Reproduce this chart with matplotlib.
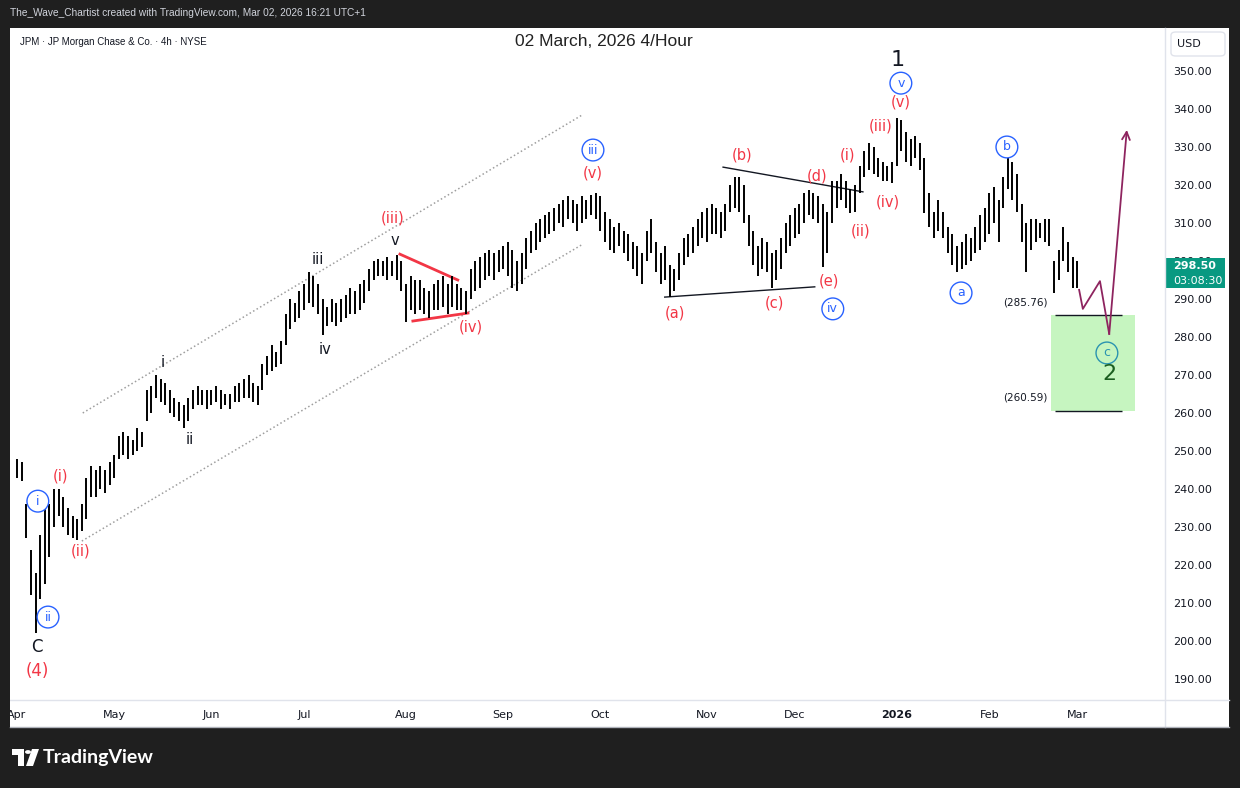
import numpy as np
import pandas as pd
import matplotlib
matplotlib.use("Agg")
import matplotlib.pyplot as plt
from matplotlib.patches import Rectangle, FancyBboxPatch, Circle, Polygon
from matplotlib.lines import Line2D

# ---- data: JPM 4h chart, one bar per trading day ----
holidays = ['2025-04-18', '2025-05-26', '2025-06-19', '2025-07-04', '2025-09-01',
            '2025-11-27', '2025-12-25', '2026-01-01', '2026-01-19', '2026-02-16']
days = pd.bdate_range('2025-04-01', '2026-03-02')
days = days[~days.isin(pd.to_datetime(holidays))]

lows = [243, 242, 227, 212, 202, 211, 215, 222, 230, 233,
        230, 228, 227, 226.5, 229, 232, 238, 238, 240, 239,
        241, 243, 248, 249, 248, 249, 250, 251, 258, 260,
        264, 263, 262, 260, 259, 258, 256, 258, 261, 262,
        262, 261, 262, 263, 261, 262, 261, 263, 263, 264,
        264, 263, 262, 266, 270, 271, 272, 273, 278, 282,
        284, 285, 287, 289, 288, 286, 280.5, 283, 284, 283,
        284, 285, 286, 286, 287, 289, 292, 295, 296, 296,
        295, 296, 295, 292, 284, 287, 286, 287, 286, 285,
        287, 287, 288, 286, 288, 287, 287, 286, 290, 292,
        293, 295, 296, 295, 297, 298, 296, 293, 292, 294,
        298, 302, 303, 305, 306, 307, 308, 310, 309, 311,
        310, 308, 310, 311, 312, 311, 308, 305, 303, 302,
        304, 302, 300, 298, 296, 294, 300, 302, 297, 294,
        295, 290.5, 292, 295, 299, 301, 302, 304, 306, 305,
        307, 307, 306, 308, 313, 314, 313, 310, 304, 299,
        296, 298, 297, 293, 295, 298, 302, 304, 306, 307,
        310, 312, 311, 310, 298.4, 302, 310, 314, 316, 314,
        312.6, 313, 318, 322, 324, 323, 322, 321, 321, 320.5,
        325, 329, 326, 325, 327, 324, 312.6, 309, 306, 308,
        306, 302, 299, 297, 298, 299, 300, 302, 303, 305,
        307, 310, 305, 314, 319, 316, 313, 305, 297, 303,
        305, 306, 305, 304, 291.6, 295, 300, 297, 293, 293]
highs = [248, 247, 236, 224, 218, 228, 237, 236, 240, 240,
         238, 235, 233, 232, 236, 243, 246, 245, 246, 245,
         247, 249, 254, 255, 254, 253, 256, 255, 266, 267,
         270, 269, 268, 266, 264, 263, 262, 264, 266, 267,
         266, 266, 266, 267, 266, 265, 265, 267, 268, 269,
         270, 268, 267, 273, 275, 278, 276, 279, 286, 290,
         289, 292, 294, 297, 296, 294, 290, 288, 290, 289,
         290, 291, 293, 292, 294, 295, 298, 300, 300.5, 300,
         301, 300, 301.5, 300, 294, 296, 295, 295, 293, 292,
         294, 295, 296, 294, 296, 294, 293, 292, 298, 300,
         301, 302, 303, 302, 303, 304, 305, 303, 300, 302,
         306, 308, 310, 311, 312, 313, 314, 315, 316, 317,
         316, 315, 317, 316, 317.5, 318, 317, 313, 311, 309,
         310, 308, 307, 305, 304, 302, 308, 311, 305, 302,
         304, 299, 298, 302, 306, 307, 309, 311, 313, 314,
         315, 314, 313, 315, 320, 322, 322, 320, 312, 308,
         304, 306, 305, 302, 303, 306, 310, 312, 314, 315,
         318, 318.7, 318, 317, 315, 313, 321, 321, 323, 321,
         319, 320, 325, 329, 331, 330, 327, 326, 325, 326,
         337.6, 337, 334, 332, 333, 331, 327, 318, 313, 316,
         313, 309, 307, 304, 305, 307, 306, 309, 312, 314,
         318, 319.5, 316, 322, 327, 326, 323, 315, 310, 311,
         311, 310, 311, 311, 300, 303, 309, 305, 301, 300]
last_price = 298.50
zone_top, zone_bottom = 285.76, 260.59
price_ticks = list(range(190, 351, 10))

# wave labels: (bar index, price, text)
red_labels = [(9.3, 243.4, '(i)'), (13.8, 223.7, '(ii)'), (81.2, 311.3, '(iii)'),
              (98, 282.6, '(iv)'), (124.4, 323.2, '(v)'), (142, 286.3, '(a)'),
              (156.6, 327.9, '(b)'), (163.7, 289.0, '(c)'), (172.8, 322.4, '(d)'),
              (175.4, 294.7, '(e)'), (179.3, 327.9, '(i)'), (182.3, 307.9, '(ii)'),
              (186.6, 335.5, '(iii)'), (188.1, 315.5, '(iv)'), (190.9, 341.8, '(v)')]
black_labels = [(31.5, 273.2, 'i'), (37.4, 253.0, 'ii'), (65, 300.3, 'iii'),
                (66.5, 276.8, 'iv'), (81.6, 305.3, 'v')]
blue_circles = [(4.5, 236.8, 'i'), (6.7, 206.3, 'ii'), (124.4, 329.2, 'iii'),
                (176.2, 287.4, 'iv'), (190.9, 346.8, 'v'), (203.9, 291.6, 'a'),
                (213.8, 330.0, 'b')]

# drawings
chan_upper = ([14.2, 122.3], [260.0, 338.6])
chan_lower = ([14.0, 122.3], [226.3, 304.5])
tri_red_up = ([82.7, 95.2], [301.8, 295.0])
tri_red_lo = ([85.5, 97.4], [284.2, 286.3])
tri_blk_up = ([152.5, 182.7], [324.7, 318.2])
tri_blk_lo = ([139.9, 172.3], [290.5, 293.2])
proj_x = [229.4, 230.2, 233.9, 235.9, 239.7]
proj_y = [292.4, 287.4, 294.7, 280.8, 334.5]

W, H = 1240, 788
def fx(px):
    return px / W
def fy(py):
    return 1 - py / H

fig = plt.figure(figsize=(12.4, 7.88), dpi=100, facecolor='#1f1f1f')

# white chart panel behind everything
fig.add_artist(Rectangle((fx(10), fy(727)), fx(1229) - fx(10), fy(28) - fy(727),
                         transform=fig.transFigure, fc='white', ec='none', zorder=-2))

ax = fig.add_axes([fx(10), fy(700), fx(1165) - fx(10), fy(28) - fy(700)])
ax.set_facecolor('white')
for s in ax.spines.values():
    s.set_visible(False)

x = np.arange(len(days))
ax.vlines(x, lows, highs, color='#000000', lw=1.4, zorder=3)

ax.set_xlim((10 - 17) / 4.63, (1165 - 17) / 4.63)
ax.set_ylim(350 - (700 - 71) / 3.8, 350 - (28 - 71) / 3.8)

# axes ticks
ax.yaxis.tick_right()
ax.set_yticks(price_ticks)
ax.set_yticklabels([f'{v:.2f}' for v in price_ticks])
ax.tick_params(axis='y', length=0, pad=6, labelsize=8, labelcolor='#131722')

month_idx = [0] + [k for k in range(1, len(days)) if days[k].month != days[k - 1].month]
month_lbl = ['2026' if days[k].month == 1 else days[k].strftime('%b') for k in month_idx]
ax.set_xticks(month_idx)
ax.set_xticklabels(month_lbl)
ax.tick_params(axis='x', length=0, pad=7, labelsize=8, labelcolor='#131722')
for t in ax.get_xticklabels():
    if t.get_text() == '2026':
        t.set_fontweight('bold')

# channel + triangles
ax.plot(*chan_upper, color='#9e9e9e', ls=':', lw=1.1)
ax.plot(*chan_lower, color='#9e9e9e', ls=':', lw=1.1)
ax.plot(*tri_red_up, color='#f23645', lw=2)
ax.plot(*tri_red_lo, color='#f23645', lw=2)
ax.plot(*tri_blk_up, color='#131722', lw=1)
ax.plot(*tri_blk_lo, color='#131722', lw=1)

# target zone
ax.add_patch(Rectangle((223.3, zone_bottom), 241.5 - 223.3, zone_top - zone_bottom,
                       fc='#c6f5c0', ec='none', zorder=1))
ax.hlines([zone_top, zone_bottom], 224.2, 238.7, color='#131722', lw=1, zorder=2)
ax.text(217.7, 289.0, f'({zone_top:.2f})', ha='center', va='center', fontsize=7.5, color='#131722')
ax.text(217.7, 264.0, f'({zone_bottom:.2f})', ha='center', va='center', fontsize=7.5, color='#131722')

# projected path
ax.plot(proj_x[:-1], proj_y[:-1], color='#8e245f', lw=1.3, zorder=4)
ax.annotate('', xy=(proj_x[-1], proj_y[-1]), xytext=(proj_x[-2], proj_y[-2]),
            arrowprops=dict(arrowstyle='->', color='#8e245f', lw=1.3,
                            shrinkA=0, shrinkB=0, mutation_scale=14), zorder=4)

# wave labels
for i, p, s in red_labels:
    ax.text(i, p, s, ha='center', va='center', color='#f23645', fontsize=10.5, zorder=5)
for i, p, s in black_labels:
    ax.text(i, p, s, ha='center', va='center', color='#131722', fontsize=10.5, zorder=5)
for i, p, s in blue_circles:
    ax.text(i, p, s, ha='center', va='center', color='#2962ff', fontsize=9, zorder=5,
            bbox=dict(boxstyle='circle,pad=0.35', fc='white', ec='#2962ff', lw=1))
ax.text(235.4, 275.8, 'c', ha='center', va='center', color='#2a93b0', fontsize=9, zorder=5,
        bbox=dict(boxstyle='circle,pad=0.35', fc='none', ec='#2a93b0', lw=1))
ax.text(235.9, 270.3, '2', ha='center', va='center', color='#1b5e20', fontsize=16, zorder=5)
ax.text(190.3, 352.9, '1', ha='center', va='center', color='#131722', fontsize=16, zorder=5)
ax.text(4.3, 198.4, 'C', ha='center', va='center', color='#131722', fontsize=12, zorder=5)
ax.text(4.3, 192.0, '(4)', ha='center', va='center', color='#f23645', fontsize=12, zorder=5)

# panel separators
fig.add_artist(Line2D([fx(1165), fx(1165)], [fy(28), fy(727)], color='#e0e3eb', lw=1))
fig.add_artist(Line2D([fx(10), fx(1229)], [fy(700), fy(700)], color='#e0e3eb', lw=1))
fig.add_artist(Line2D([fx(10), fx(1229)], [fy(727), fy(727)], color='#b0b3bb', lw=1))

# dark left frame drawn over the clipped "Apr" label
fig.add_artist(Rectangle((0, fy(727)), fx(10), fy(28) - fy(727),
                         transform=fig.transFigure, fc='#1f1f1f', ec='none', zorder=2))

# USD box
fig.add_artist(FancyBboxPatch((fx(1171), fy(56)), fx(1225) - fx(1171), fy(32) - fy(56),
                              boxstyle='round,pad=0,rounding_size=0.004',
                              transform=fig.transFigure, fc='white', ec='#e0e3eb', lw=1))
fig.text(fx(1177), fy(44), 'USD', fontsize=8, color='#131722', va='center')

# last price tag
fig.add_artist(Rectangle((fx(1166), fy(288)), fx(1225) - fx(1166), fy(258) - fy(288),
                         transform=fig.transFigure, fc='#089981', ec='none'))
fig.text(fx(1173), fy(266), f'{last_price:.2f}', fontsize=8, color='white', va='center',
         fontweight='bold')
fig.text(fx(1173), fy(281), '03:08:30', fontsize=8, color='white', va='center')

# header texts
fig.text(fx(10), fy(13), 'The_Wave_Chartist created with TradingView.com, Mar 02, 2026 16:21 UTC+1',
         fontsize=7.3, color='#d1d4dc', va='center', family='Liberation Sans')
fig.text(fx(20), fy(42), 'JPM · JP Morgan Chase & Co. · 4h · NYSE', fontsize=7,
         color='#131722', va='center', family='Liberation Sans')
fig.text(fx(604), fy(41), '02 March, 2026 4/Hour', fontsize=12.5, color='#222222',
         ha='center', va='center', family='Liberation Sans')

# footer logo
fig.add_artist(Polygon([(fx(12), fy(749)), (fx(24), fy(749)), (fx(24), fy(766)),
                        (fx(18), fy(766)), (fx(18), fy(755)), (fx(12), fy(755))],
                       closed=True, transform=fig.transFigure, fc='white', ec='none'))
fig.add_artist(Circle((fx(28), fy(752)), 3 / W, transform=fig.transFigure, fc='white', ec='none'))
fig.add_artist(Polygon([(fx(32), fy(749)), (fx(39), fy(749)), (fx(33), fy(766)), (fx(26), fy(766))],
                       closed=True, transform=fig.transFigure, fc='white', ec='none'))
fig.text(fx(43), fy(758), 'TradingView', fontsize=14, color='white', va='center',
         fontweight='bold', family='Lato')

fig.savefig('out.png', dpi=100, facecolor=fig.get_facecolor())
